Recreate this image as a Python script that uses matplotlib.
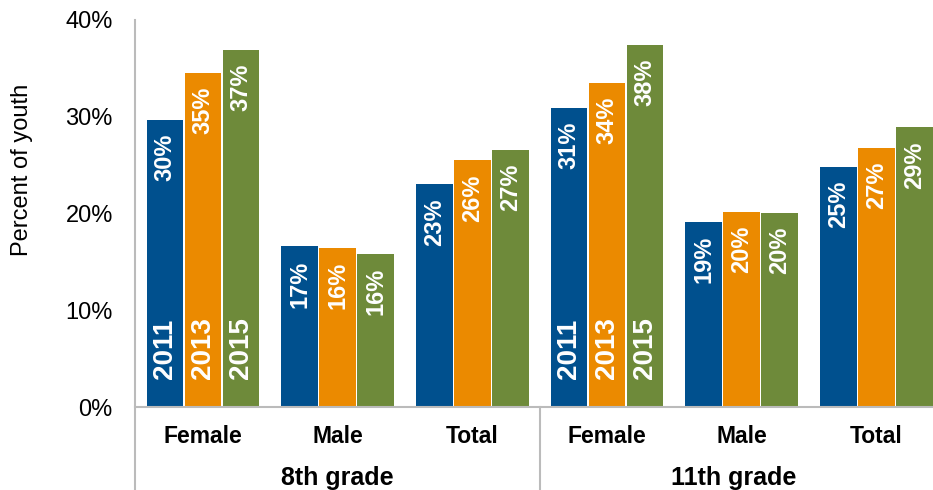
import numpy as np
import matplotlib.pyplot as plt
import matplotlib.transforms as mtransforms

plt.rcParams['font.family'] = ['Liberation Sans', 'DejaVu Sans']

# 数据：两个年级 x 三个类别，三个年份
categories = ['Female', 'Male', 'Total', 'Female', 'Male', 'Total']
grades = ['8th grade', '11th grade']
years = ['2011', '2013', '2015']
vals_2011 = [29.7, 16.6, 23.0, 30.9, 19.1, 24.8]
vals_2013 = [34.5, 16.4, 25.5, 33.5, 20.2, 26.8]
vals_2015 = [36.9, 15.8, 26.6, 37.4, 20.1, 28.9]
labels_2011 = ['30%', '17%', '23%', '31%', '19%', '25%']
labels_2013 = ['35%', '16%', '26%', '34%', '20%', '27%']
labels_2015 = ['37%', '16%', '27%', '38%', '20%', '29%']

colors = ['#00508E', '#EB8A00', '#6E8A3A']
series = [vals_2011, vals_2013, vals_2015]
series_labels = [labels_2011, labels_2013, labels_2015]

fig = plt.figure(figsize=(9.33, 4.9), dpi=100)
ax = fig.add_axes([135 / 933, 1 - 407 / 490, 1 - 135 / 933, 387 / 490])

x = np.arange(len(categories))
offset = 0.282
width = 0.272

for k, (vals, labs, c) in enumerate(zip(series, series_labels, colors)):
    xs = x + (k - 1) * offset
    ax.bar(xs, vals, width=width, color=c, edgecolor='none')
    for xi, v, lab in zip(xs, vals, labs):
        # 数值标签：柱顶内侧，白色竖排
        ax.annotate(lab, (xi, v), xytext=(0, -10), textcoords='offset points',
                    rotation=90, ha='center', va='top', color='white',
                    fontsize=17, fontweight='bold')
    # 年份标签只写在每个年级的 Female 柱底部
    for g in (0, 3):
        ax.annotate(years[k], (xs[g], 0), xytext=(0, 20), textcoords='offset points',
                    rotation=90, ha='center', va='bottom', color='white',
                    fontsize=20, fontweight='bold')

ax.set_xlim(-0.505, 5.42)
ax.set_ylim(0, 40)
ax.set_yticks([0, 10, 20, 30, 40])
ax.set_yticklabels(['0%', '10%', '20%', '30%', '40%'], fontsize=17)
ax.tick_params(axis='y', length=0, pad=16)
ax.set_xticks([])
fig.text(22 / 933, 1 - 170 / 490, 'Percent of youth', rotation=90,
         ha='center', va='center', fontsize=17)

for s in ['top', 'right', 'left']:
    ax.spines[s].set_visible(False)
ax.spines['bottom'].set_color('#BBBBBB')
ax.spines['bottom'].set_linewidth(1.5)

# 竖线：左轴和年级分隔线（延伸到类别标签下方）
trans = mtransforms.blended_transform_factory(ax.transData, ax.transAxes)
ax.plot([-0.505, -0.505], [-0.25, 1.0], transform=trans, color='#BBBBBB',
        lw=1.5, clip_on=False)
ax.plot([2.5, 2.5], [-0.25, 0.0], transform=trans, color='#BBBBBB',
        lw=1.5, clip_on=False)

for xi, cat in zip(x, categories):
    ax.text(xi, -0.075, cat, transform=trans, ha='center', va='center',
            fontsize=16.5, fontweight='bold')
# 11th grade 标签在原图中略偏左
for gi, grade in enumerate(grades):
    ax.text(1 + 3 * gi - 0.06 * gi, -0.183, grade, transform=trans,
            ha='center', va='center', fontsize=18, fontweight='bold')

plt.savefig('out.png', dpi=100)
plt.close()
